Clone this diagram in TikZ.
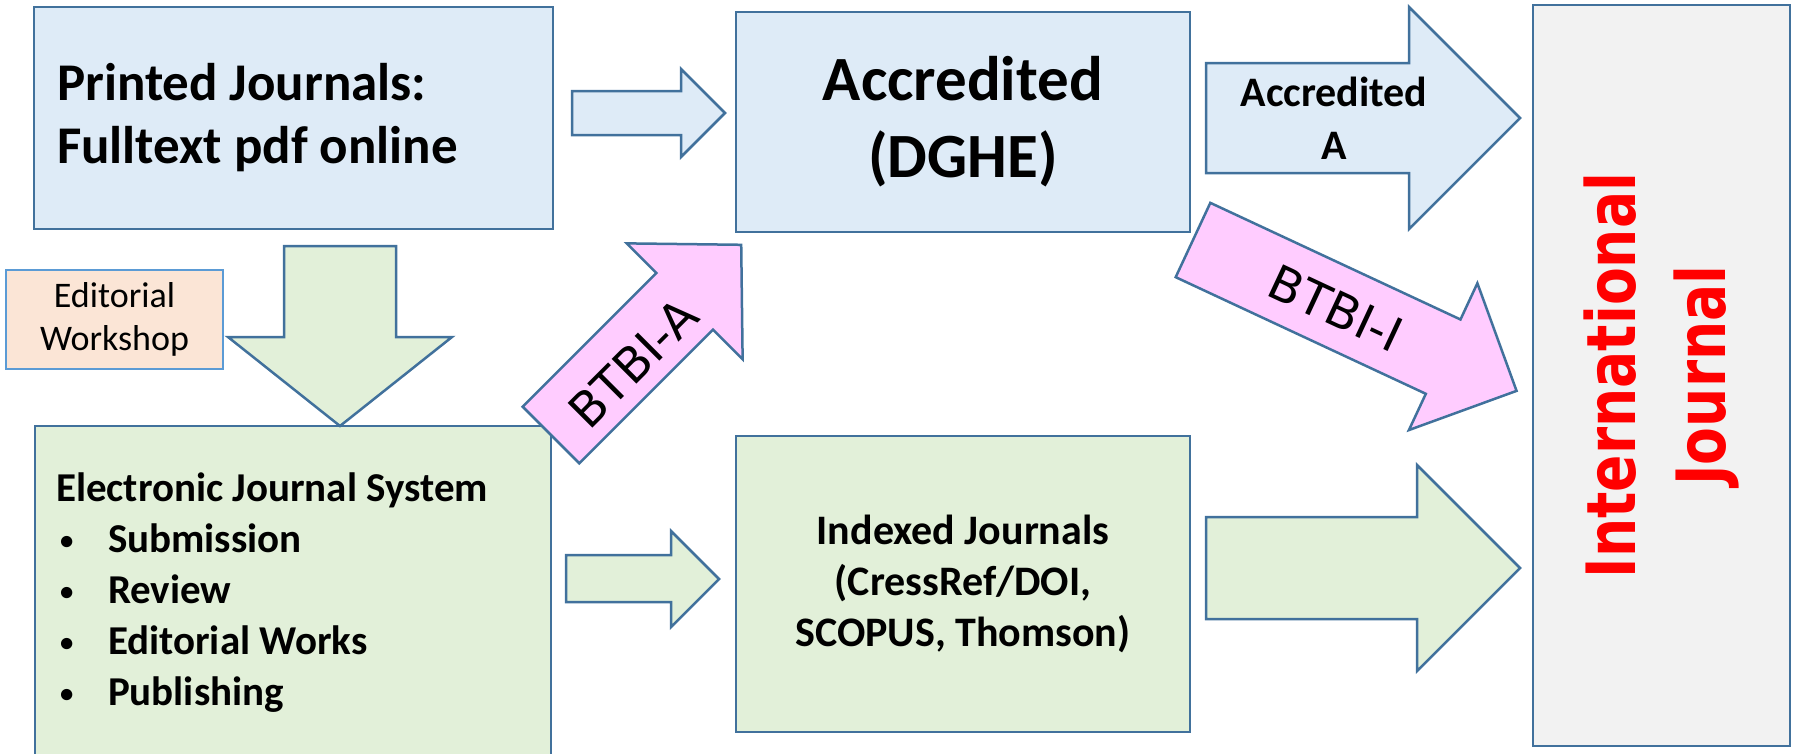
\documentclass[tikz,border=0pt]{standalone}
\usepackage{fontspec}
\setmainfont{Carlito}
\newfontfamily\verdfont{DejaVu Sans}
\newfontfamily\intlfont[FakeStretch=0.81]{DejaVu Sans}
\definecolor{edge}{HTML}{41719C}
\definecolor{lightedge}{HTML}{5B9BD5}
\definecolor{paleblue}{HTML}{DEEBF7}
\definecolor{palegreen}{HTML}{E2F0D9}
\definecolor{palepink}{HTML}{FFCCFF}
\definecolor{palepeach}{HTML}{FBE5D6}
\definecolor{palegray}{HTML}{F2F2F2}
\newcommand{\itm}{\makebox[52pt][l]{\hspace{4pt}\raisebox{3pt}{\scalebox{0.65}{\textbullet}}}}
\begin{document}
\begin{tikzpicture}[x=1pt,y=-1pt,line join=miter]
	\tikzset{box/.style={draw=edge,line width=2.5pt,inner sep=0pt},
		bluebox/.style={box,fill=paleblue},
		greenbox/.style={box,fill=palegreen},
		blockarrow/.style={draw=edge,line width=2.5pt}}
	\useasboundingbox (0,0) rectangle (1794,753);
	\clip (0,0) rectangle (1794,753);
	% boxes
	\node[bluebox,minimum width=519pt,minimum height=222pt,text width=473pt,inner xsep=23pt,align=flush left,
		font=\fontsize{53}{63}\selectfont\bfseries] (printed) at (293.5,118) {Printed Journals:\\Fulltext pdf online};
	\node[bluebox,minimum width=454pt,minimum height=220pt,align=center,
		font=\fontsize{63}{77}\selectfont\bfseries] (accr) at (963,122) {Accredited\\(DGHE)};
	\node[box,draw=lightedge,line width=1.5pt,fill=palepeach,minimum width=217pt,minimum height=99pt,align=center,
		font=\fontsize{36}{43}\selectfont] (workshop) at (114.5,319.5) {Editorial\\Workshop};
	\node[greenbox,minimum width=516pt,minimum height=334pt,text width=474pt,inner xsep=21pt,align=flush left,
		font=\fontsize{41}{51}\selectfont\bfseries] (ejs) at (293,593) {Electronic Journal System\\
		\itm Submission\\
		\itm Review\\
		\itm Editorial Works\\
		\itm Publishing};
	\node[greenbox,minimum width=454pt,minimum height=296pt,align=center,
		font=\fontsize{42}{51}\selectfont\bfseries] (indexed) at (963,584) {Indexed Journals\\(CressRef/DOI,\\SCOPUS, Thomson)};
	\node[box,fill=palegray,minimum width=257pt,minimum height=741pt] (intl) at (1661.5,375.5) {};
	\node[rotate=90,align=center,text=red,font=\fontsize{68}{90}\selectfont\intlfont\bfseries] (intltxt) at (intl.center) {International\\Journal};
	% block arrows
	\filldraw[blockarrow,fill=paleblue] (572,91) -- (681,91) -- (681,69) -- (725,113) -- (681,157) -- (681,135) -- (572,135) -- cycle;
	\filldraw[blockarrow,fill=paleblue] (1206,63) -- (1409,63) -- (1409,7) -- (1520,118) -- (1409,229) -- (1409,173) -- (1206,173) -- cycle;
	\filldraw[blockarrow,fill=palegreen] (284,246) -- (396,246) -- (396,337) -- (452,337) -- (340,426) -- (228,337) -- (284,337) -- cycle;
	\filldraw[blockarrow,fill=palegreen] (566,555) -- (671,555) -- (671,531) -- (719,579) -- (671,627) -- (671,602) -- (566,602) -- cycle;
	\filldraw[blockarrow,fill=palegreen] (1206,517) -- (1417,517) -- (1417,465) -- (1520,568) -- (1417,671) -- (1417,619) -- (1206,619) -- cycle;
	\begin{scope}[shift={(551,435)},rotate=45]
		\filldraw[blockarrow,fill=palepink] (0,-40) -- (189,-40) -- (189,-82) -- (269,0) -- (189,82) -- (189,40) -- (0,40) -- cycle;
	\end{scope}
	\begin{scope}[shift={(1193,240)},rotate=-25]
		\filldraw[blockarrow,fill=palepink] (0,-41) -- (276,-41) -- (276,-81) -- (357,0) -- (276,81) -- (276,41) -- (0,41) -- cycle;
	\end{scope}
	% arrow labels
	\node[align=center,font=\fontsize{42}{53}\selectfont\bfseries] (acclbl) at (1334,118) {Accredited\\A};
	\node[rotate=45,font=\fontsize{48}{58}\selectfont\verdfont] (btbia) at (633,363) {BTBI-A};
	\node[rotate=-25,font=\fontsize{48}{58}\selectfont\verdfont] (btbii) at (1336,308) {BTBI-I};
\end{tikzpicture}
\end{document}
